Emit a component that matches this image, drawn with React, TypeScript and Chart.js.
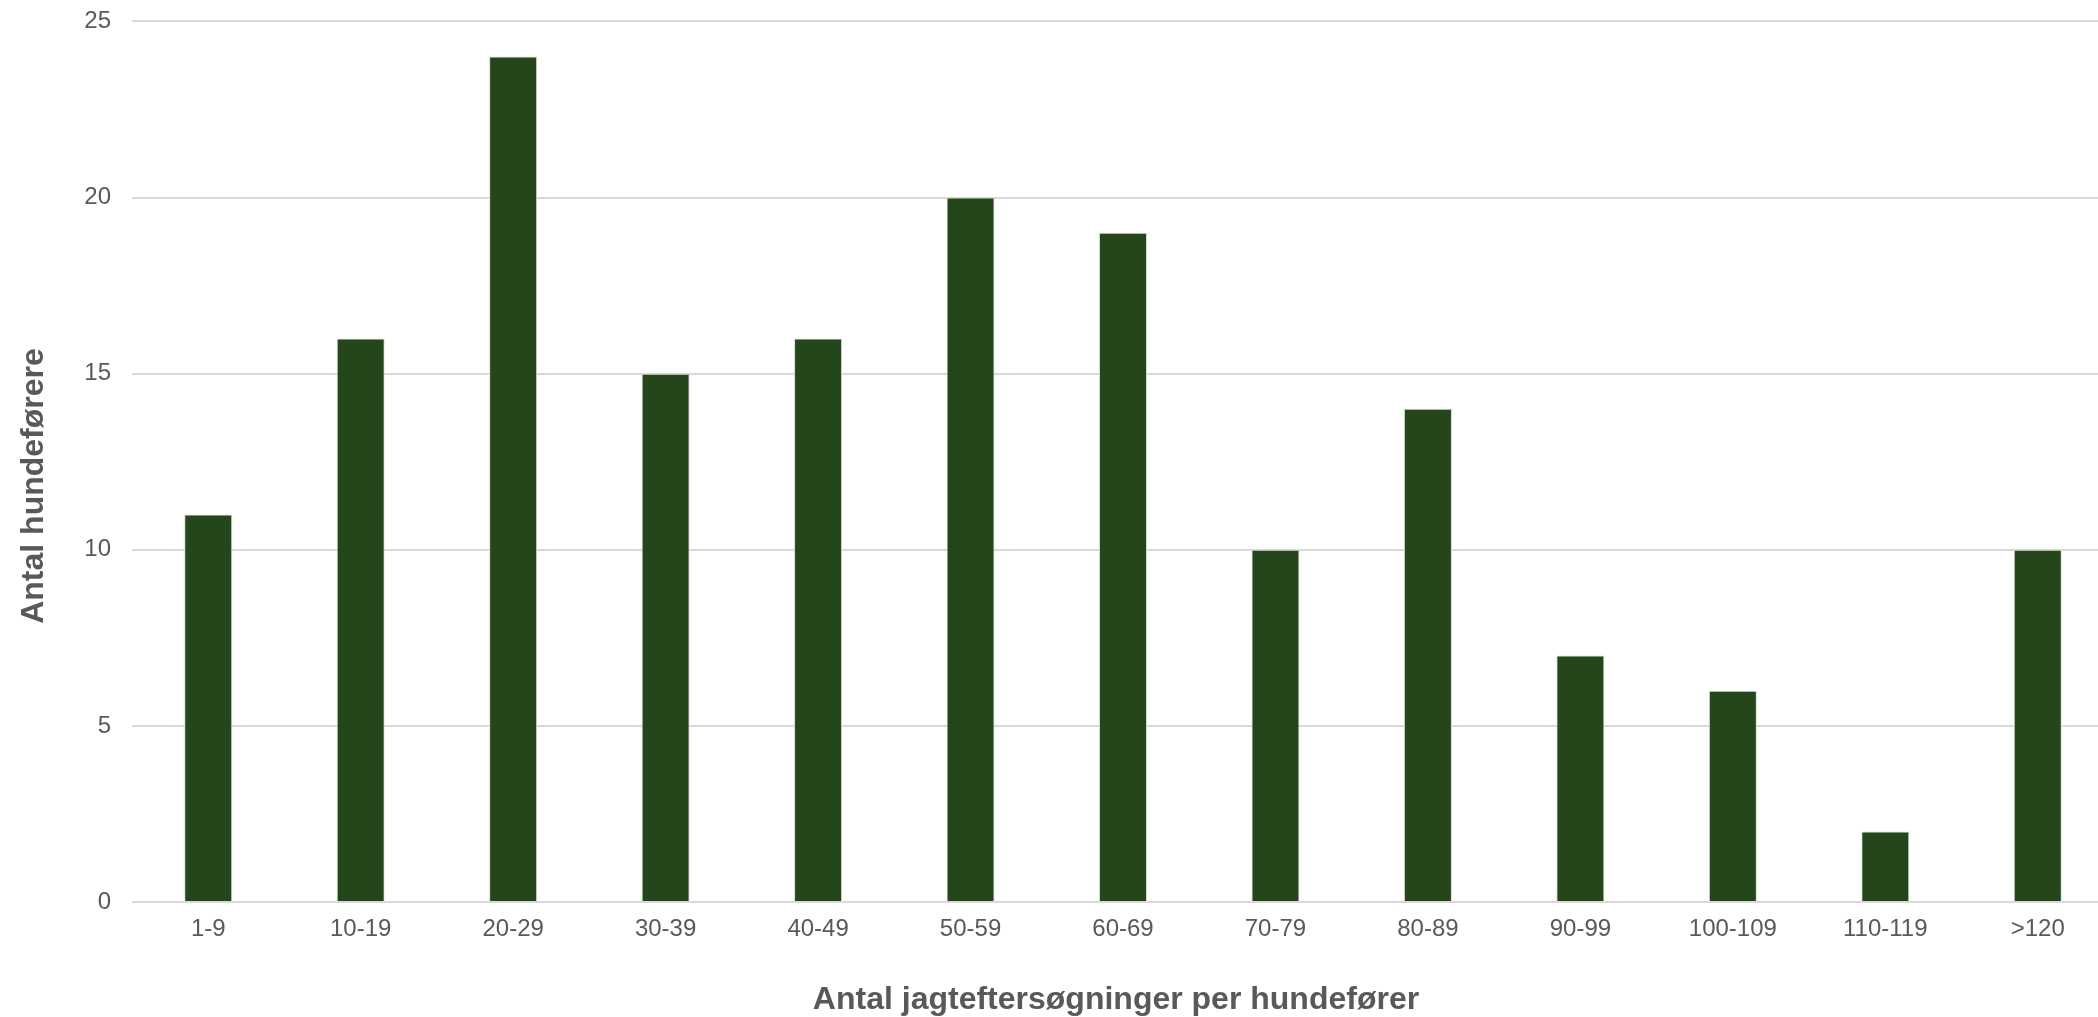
import React, { useEffect, useRef } from "react";
import { Chart, registerables } from "chart.js";

Chart.register(...registerables);

const categories = ["1-9", "10-19", "20-29", "30-39", "40-49", "50-59", "60-69", "70-79", "80-89", "90-99", "100-109", "110-119", ">120"];
const counts = [11, 16, 24, 15, 16, 20, 19, 10, 14, 7, 6, 2, 10];
const yTitle = "Antal hundeførere";
const xTitle = "Antal jagteftersøgninger per hundefører";

const TEXT = "#595959";
const FONT = "'Liberation Sans', Arial, sans-serif";
const SHIFT = 14;

const titlesPlugin = {
  id: "axisTitles",
  afterDraw(chart: any) {
    const ctx = chart.ctx;
    ctx.save();
    ctx.fillStyle = TEXT;
    ctx.font = `bold 32px ${FONT}`;
    ctx.textAlign = "center";
    ctx.textBaseline = "alphabetic";
    ctx.fillText(xTitle, 1116, 1009 + SHIFT);
    ctx.translate(43, 486 + SHIFT);
    ctx.rotate(-Math.PI / 2);
    ctx.fillText(yTitle, 0, 0);
    ctx.restore();
  },
};

export default function App() {
  const ref = useRef<HTMLCanvasElement | null>(null);
  useEffect(() => {
    if (!ref.current) return;
    const chart = new Chart(ref.current, {
      type: "bar",
      data: {
        labels: categories,
        datasets: [
          {
            data: counts,
            backgroundColor: "#25461b",
            borderColor: "#d5dbd2",
            borderWidth: 1,
            barPercentage: 1,
            categoryPercentage: 0.315,
          },
        ],
      },
      options: {
        responsive: false,
        animation: false,
        devicePixelRatio: 1,
        layout: { padding: { top: 22, right: 6, left: 0, bottom: 0 } },
        plugins: { legend: { display: false }, tooltip: { enabled: false } },
        scales: {
          x: {
            grid: { display: false },
            border: { display: false },
            ticks: { color: TEXT, font: { family: FONT, size: 24 }, padding: 5, maxRotation: 0, autoSkip: false },
            afterFit(scale: any) {
              scale.height = 115;
            },
          },
          y: {
            min: 0,
            max: 25,
            ticks: { stepSize: 5, color: TEXT, font: { family: FONT, size: 24 }, padding: 21 },
            grid: { color: "#d9d9d9", lineWidth: 2, drawTicks: false },
            border: { display: false },
            afterFit(scale: any) {
              scale.width = 132;
            },
          },
        },
      },
      plugins: [titlesPlugin],
    });
    return () => chart.destroy();
  }, []);
  return (
    <div style={{ position: "fixed", left: 0, top: 0, width: "100vw", height: "100vh", overflow: "hidden", background: "#fff" }}>
      <canvas ref={ref} width={2120} height={1017 + SHIFT} style={{ display: "block", marginTop: -SHIFT }} />
    </div>
  );
}
